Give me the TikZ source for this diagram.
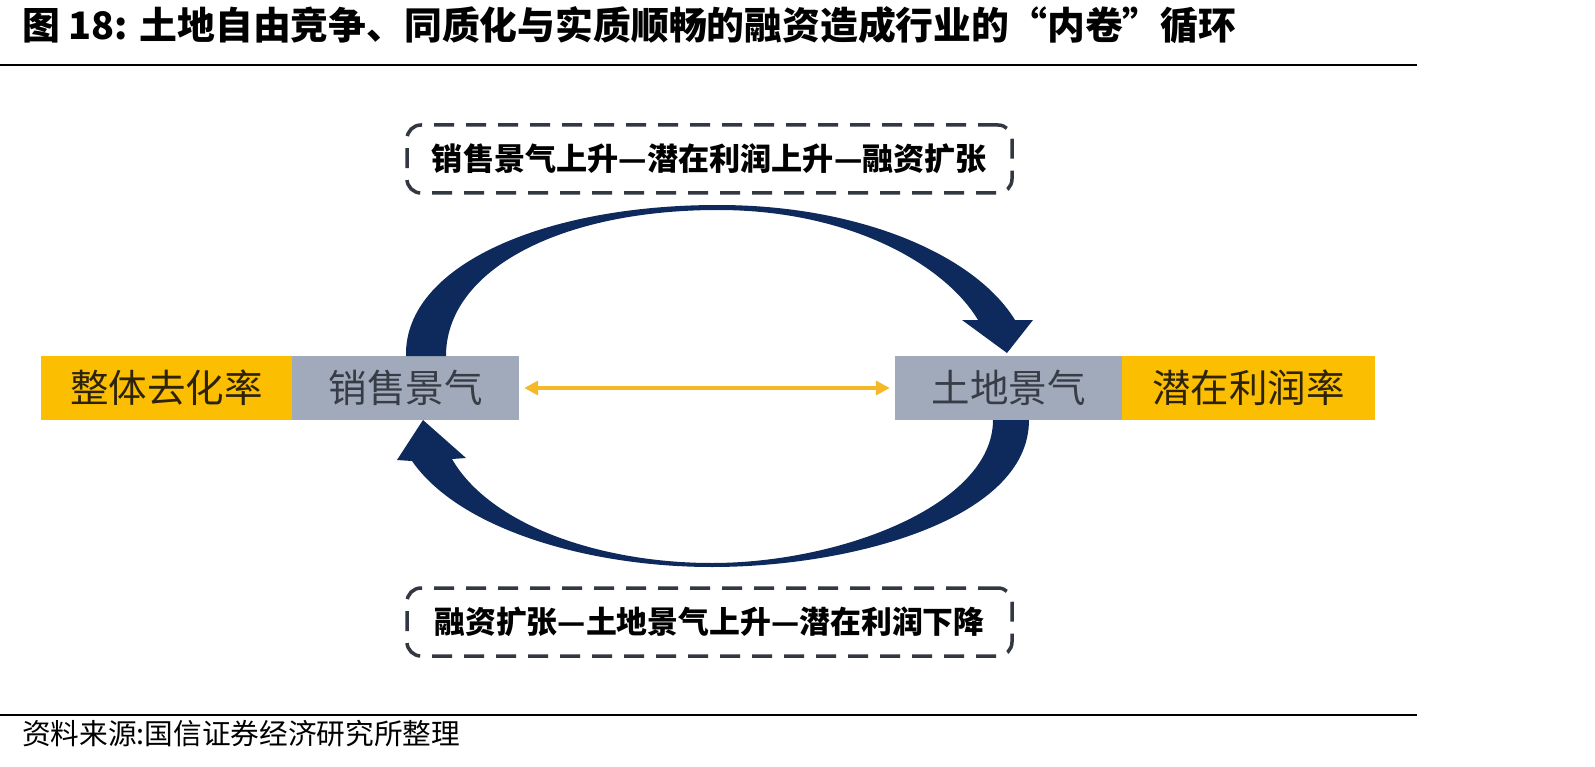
\documentclass[tikz,border=0pt]{standalone}
\usepackage{fontspec}
\usepackage{graphicx}
\usetikzlibrary{arrows.meta}
\setmainfont{Liberation Sans}
\newfontfamily\cjk{Noto Sans CJK SC}
\definecolor{navyc}{RGB}{14,42,92}
\definecolor{yellowc}{RGB}{252,190,0}
\definecolor{grayc}{RGB}{160,170,186}
\definecolor{orangec}{RGB}{245,185,40}
\definecolor{dashc}{RGB}{50,55,65}
\definecolor{ytext}{RGB}{45,35,10}
\definecolor{gtext}{RGB}{55,60,70}
\tikzset{
  yellowbox/.style={fill=yellowc, inner sep=0pt, minimum height=64pt, text=ytext},
  graybox/.style={fill=grayc, inner sep=0pt, minimum height=64pt, minimum width=227pt, text=gtext},
  dashbox/.style={draw=dashc, line width=3.5pt, dash pattern=on 20pt off 12pt, rounded corners=14pt,
    minimum width=605pt, minimum height=68pt, inner sep=0pt},
  boxtext/.style={font=\cjk\fontsize{38.5}{40}\selectfont},
  plain/.style={inner sep=0pt},
  rule/.style={line width=2.5pt, black}
}
\begin{document}
\begin{tikzpicture}[x=1pt,y=-1pt]
\useasboundingbox (0,0) rectangle (1595,767);
\fill[white] (0,0) rectangle (1595,767);

% title and rules
\node[plain, anchor=west] (title) at (22,25) {\resizebox{1214pt}{!}{\cjk\bfseries 图 18: 土地自由竞争、同质化与实质顺畅的融资造成行业的“内卷”循环}};
\coordinate (r1a) at (0,65);
\coordinate (r1b) at (1417,65);
\draw[rule] (r1a) -- (r1b);
\coordinate (r2a) at (0,715);
\coordinate (r2b) at (1417,715);
\draw[rule] (r2a) -- (r2b);
\node[plain, anchor=west] (src) at (22,734) {\resizebox{438pt}{!}{\cjk 资料来源:国信证券经济研究所整理}};

% boxes
\node[yellowbox, minimum width=251pt, boxtext] (rate) at (166.5,388) {整体去化率};
\node[graybox, boxtext] (sales) at (405.5,388) {销售景气};
\node[graybox, boxtext] (land) at (1008.5,388) {土地景气};
\node[yellowbox, minimum width=253pt, boxtext] (profit) at (1248.5,388) {潜在利润率};

% dashed boxes
\node[dashbox] (top) at (709.5,159) {\resizebox{555pt}{!}{\cjk\bfseries 销售景气上升—潜在利润上升—融资扩张}};
\node[dashbox] (bot) at (709.5,622) {\resizebox{550pt}{!}{\cjk\bfseries 融资扩张—土地景气上升—潜在利润下降}};

% orange double arrow
\draw[orangec, line width=4pt, {Triangle[length=14pt,width=14pt]}-{Triangle[length=14pt,width=14pt]}]
  ([xshift=5pt]sales.east) -- ([xshift=-5pt]land.west);

% upper curved arrow
\fill[navyc] (406,356) .. controls (404,265) and (545,205) .. (718,205)
  .. controls (860,205) and (975,255) .. (1015,320) -- (1033,320) -- (1007,353) -- (962,320) -- (978,320)
  .. controls (945,265) and (850,210) .. (718,210)
  .. controls (560,210) and (446,270) .. (446,356) -- cycle;

% lower curved arrow
\fill[navyc] (1029,420) .. controls (1029,520) and (850,567) .. (712,567)
  .. controls (590,567) and (460,530) .. (412,461) -- (397,460) -- (423,420) -- (466,458) -- (452,459)
  .. controls (490,525) and (600,563) .. (712,563)
  .. controls (840,563) and (993,505) .. (993,420) -- cycle;
\end{tikzpicture}
\end{document}
